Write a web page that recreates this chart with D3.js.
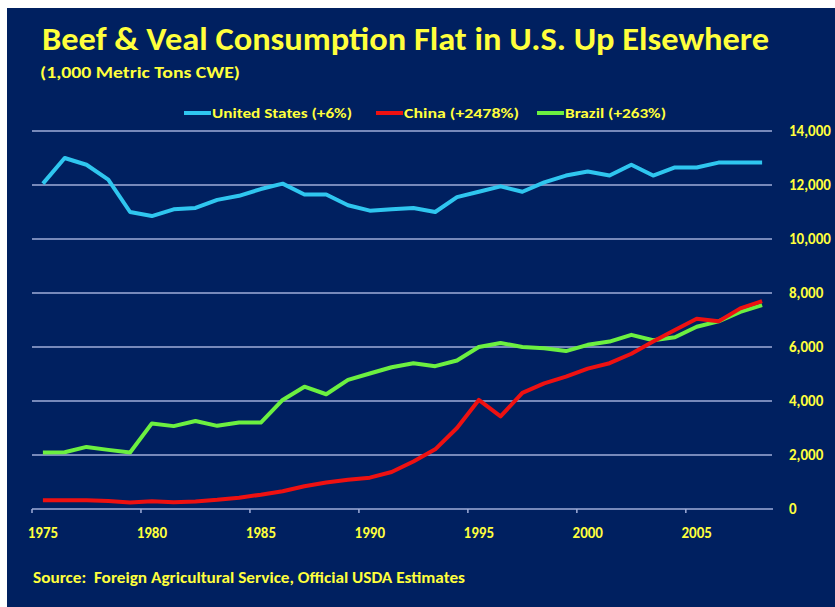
<!DOCTYPE html>
<html lang="en">
<head>
<meta charset="UTF-8">
<title>Beef & Veal Consumption</title>
<script src="https://d3js.org/d3.v7.min.js"></script>
<style>
    body { margin: 0; background: #fff; }
    svg text { font-family: Carlito, Lato, "Open Sans", sans-serif; font-weight: bold; fill: #ffff3c; }
    .axis path { display: none; }
    .axis line { stroke: #9fadd9; stroke-width: 1.5; }
    .axis text { font-size: 15px; }
</style>
</head>
<body>
<script>
    // data (1,000 metric tons CWE)
    var years = d3.range(1975, 2009);
    var usValues = [12050, 13000, 12750, 12200, 11000, 10850, 11100, 11150, 11450, 11600,
                    11850, 12050, 11650, 11650, 11250, 11050, 11100, 11150, 11000, 11550,
                    11750, 11950, 11750, 12100, 12350, 12500, 12350, 12750, 12350, 12650,
                    12650, 12830, 12830, 12830];
    var chinaValues = [320, 320, 320, 300, 240, 290, 250, 280, 340, 420,
                       530, 660, 840, 980, 1080, 1160, 1370, 1760, 2210, 3000,
                       4040, 3430, 4300, 4650, 4900, 5200, 5400, 5750, 6200, 6630,
                       7050, 6950, 7430, 7700];
    var brazilValues = [2090, 2100, 2300, 2190, 2090, 3170, 3070, 3260, 3080, 3200,
                        3200, 4040, 4530, 4250, 4780, 5020, 5250, 5400, 5290, 5500,
                        6000, 6150, 6000, 5950, 5850, 6080, 6200, 6450, 6250, 6360,
                        6750, 6950, 7300, 7550];
    var xTickYears = [1975, 1980, 1985, 1990, 1995, 2000, 2005];
    var yTicks = [0, 2000, 4000, 6000, 8000, 10000, 12000, 14000];

    var series = [
        {name: "United States (+6%)", color: "#2fc6ef", values: usValues},
        {name: "China (+2478%)", color: "#ee1111", values: chinaValues},
        {name: "Brazil (+263%)", color: "#6cf040", values: brazilValues}
    ];

    var W = 835, H = 607;
    var svg = d3.select("body").append("svg")
        .attr("width", W)
        .attr("height", H);

    svg.append("rect")
        .attr("x", 7).attr("y", 8)
        .attr("width", W - 7).attr("height", H - 8)
        .attr("fill", "#002060");

    var x = d3.scaleBand().domain(years).range([32, 773]).paddingInner(0).paddingOuter(0);
    var y = d3.scaleLinear().domain([0, 14000]).range([509, 131]);
    var bw = x.bandwidth();

    // gridlines
    svg.append("g").selectAll("line")
        .data(yTicks.slice(1))
        .enter().append("line")
        .attr("x1", 32).attr("x2", 772)
        .attr("y1", function(d) { return y(d); })
        .attr("y2", function(d) { return y(d); })
        .attr("stroke", "#9fadd9")
        .attr("stroke-width", 1.6);

    // x axis: ticks between categories, labels on categories
    var xAxis = svg.append("g")
        .attr("class", "axis")
        .attr("transform", "translate(0,509)")
        .call(d3.axisBottom(x).tickValues(xTickYears).tickSizeOuter(0).tickSize(4).tickPadding(14));
    xAxis.selectAll(".tick line")
        .attr("x1", -bw / 2).attr("x2", -bw / 2);
    svg.append("line")
        .attr("x1", 32).attr("x2", 773)
        .attr("y1", 509).attr("y2", 509)
        .attr("stroke", "#9fadd9").attr("stroke-width", 1.6);

    // y axis on the right
    svg.append("g")
        .attr("class", "axis")
        .attr("transform", "translate(773,0)")
        .call(d3.axisRight(y).tickValues(yTicks).tickSize(0).tickPadding(16).tickFormat(d3.format(",")))
        .selectAll("text").attr("text-anchor", "start");

    // lines
    var line = d3.line()
        .x(function(d, i) { return x(years[i]) + bw / 2; })
        .y(function(d) { return y(d); });

    // draw US, Brazil, then China on top
    [series[0], series[2], series[1]].forEach(function(s) {
        svg.append("path")
            .datum(s.values)
            .attr("fill", "none")
            .attr("stroke", s.color)
            .attr("stroke-width", 4)
            .attr("stroke-linejoin", "round")
            .attr("d", line);
    });

    // titles
    svg.append("text")
        .attr("x", 42).attr("y", 50)
        .attr("font-size", 32)
        .attr("textLength", 727).attr("lengthAdjust", "spacingAndGlyphs")
        .text("Beef & Veal Consumption Flat in U.S. Up Elsewhere");
    svg.append("text")
        .attr("x", 40).attr("y", 78)
        .attr("font-size", 16)
        .attr("textLength", 200).attr("lengthAdjust", "spacingAndGlyphs")
        .text("(1,000 Metric Tons CWE)");

    // legend
    var legendPos = [{x: 184, w: 140}, {x: 376, w: 115}, {x: 537, w: 101}];
    series.forEach(function(s, i) {
        var p = legendPos[i];
        svg.append("line")
            .attr("x1", p.x).attr("x2", p.x + 27)
            .attr("y1", 113).attr("y2", 113)
            .attr("stroke", s.color).attr("stroke-width", 4);
        svg.append("text")
            .attr("x", p.x + 28).attr("y", 118)
            .attr("font-size", 14)
            .attr("textLength", p.w).attr("lengthAdjust", "spacingAndGlyphs")
            .text(s.name);
    });

    // source
    svg.append("text")
        .attr("x", 33).attr("y", 583)
        .attr("font-size", 15)
        .attr("textLength", 432).attr("lengthAdjust", "spacingAndGlyphs")
        .attr("xml:space", "preserve")
        .text("Source:  Foreign Agricultural Service, Official USDA Estimates");
</script>
</body>
</html>
